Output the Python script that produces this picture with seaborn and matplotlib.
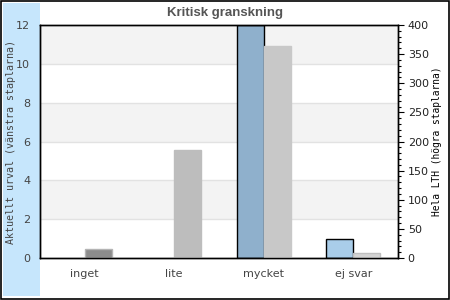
import matplotlib
matplotlib.use("Agg")
import matplotlib.pyplot as plt
from matplotlib.patches import Rectangle
from matplotlib.ticker import MultipleLocator
import seaborn as sns
import pandas as pd

categories = ["inget", "lite", "mycket", "ej svar"]
left_values = [0, 0, 12, 1]          # Aktuellt urval
right_values = [15, 185, 364, 8]     # Hela LTH
left_colors = ["#8fb0cc", "#8fb0cc", "#8fb0cc", "#a9cde9"]
right_colors = ["#8c8c8c", "#bdbdbd", "#c8c8c8", "#d4d4d4"]
right_edges = ["#b4b4b4", "#bdbdbd", "#c8c8c8", "#c0c0c0"]
title = "Kritisk granskning"
left_label = "Aktuellt urval (vänstra staplarna)"
right_label = "Hela LTH (högra staplarna)"

sns.set_style("white")

df_left = pd.DataFrame({"cat": categories, "val": left_values, "series": "left"})
df_right = pd.DataFrame({"cat": categories, "val": right_values, "series": "right"})

fig = plt.figure(figsize=(4.5, 3), dpi=100)
fig.patches.append(Rectangle((0.0015, 0.002), 0.997, 0.995, transform=fig.transFigure,
                             facecolor="white", edgecolor="black", linewidth=1.2, zorder=-2))
fig.patches.append(Rectangle((3 / 450, 4 / 300), 37 / 450, 293 / 300, transform=fig.transFigure,
                             facecolor="#c6e6fc", edgecolor="none", zorder=-1))

ax = fig.add_axes([40 / 450, 42 / 300, 358 / 450, 233 / 300])
ax.set_facecolor("white")

n0 = len(ax.patches)
sns.barplot(data=df_left, x="cat", y="val", hue="series", hue_order=["left", "right"],
            dodge=True, width=0.6, ax=ax, legend=False, errorbar=None, zorder=2)
left_bars = list(ax.patches[n0:])
for p, c, v in zip(left_bars, left_colors, left_values):
    p.set_facecolor(c)
    p.set_edgecolor("black")
    p.set_linewidth(1.0 if v > 0 else 0)

for lo in (2, 6, 10):
    ax.axhspan(lo, lo + 2, facecolor="#f3f3f3", edgecolor="none", zorder=0, lw=0)
for y in (2, 4, 6, 8, 10):
    ax.axhline(y, color="#e2e2e2", lw=1, zorder=0.5)

ax.set_ylim(0, 12)
ax.set_xlim(-0.5, 3.5)
ax.yaxis.set_major_locator(MultipleLocator(2))
ax.tick_params(axis="y", length=0, pad=7, labelsize=8, labelcolor="#444444")
ax.tick_params(axis="x", length=0, pad=8, labelsize=8, labelcolor="#444444")
ax.set_xlabel("")
ax.set_ylabel(left_label, family="DejaVu Sans Mono", fontsize=7.2, color="#444444")
ax.yaxis.set_label_coords(-0.068, 0.5)

ax2 = ax.twinx()
m0 = len(ax2.patches)
sns.barplot(data=df_right, x="cat", y="val", hue="series", hue_order=["left", "right"],
            dodge=True, width=0.6, ax=ax2, legend=False, errorbar=None, zorder=2)
for p, c, e in zip(ax2.patches[m0:], right_colors, right_edges):
    p.set_facecolor(c)
    p.set_edgecolor(e)
    p.set_linewidth(1.0)
ax2.set_ylim(0, 400)
ax2.set_xlim(-0.5, 3.5)
ax2.yaxis.set_major_locator(MultipleLocator(50))
ax2.yaxis.set_minor_locator(MultipleLocator(10))
ax2.tick_params(axis="y", which="major", length=4, width=0.8, pad=3, labelsize=8,
                labelcolor="#222222", color="black", direction="out")
ax2.tick_params(axis="y", which="minor", length=2, width=0.8, color="black", direction="out")
ax2.set_ylabel(right_label, family="DejaVu Sans Mono", fontsize=6.9, color="black")
ax2.yaxis.set_label_coords(1.096, 0.5)
ax2.set_xlabel("")

for a in (ax, ax2):
    for s in a.spines.values():
        s.set_visible(True)
        s.set_color("black")
        s.set_linewidth(1.0)

fig.text(0.5, 0.958, title, ha="center", va="center", fontsize=9.5, fontweight="bold",
         color="#555555", family="Liberation Sans")

fig.savefig("out.png", dpi=100)
